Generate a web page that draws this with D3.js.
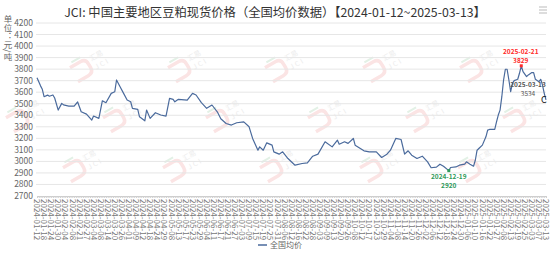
<!DOCTYPE html>
<html><head><meta charset="utf-8">
<script src="https://cdn.jsdelivr.net/npm/d3@7/dist/d3.min.js"></script>
<style>
html,body{margin:0;padding:0;background:#fff;}
svg{display:block;font-family:"Noto Sans CJK SC","Noto Sans",sans-serif;}
</style></head>
<body>
<svg id="c" width="553" height="253"></svg>
<script>
const titleText = "JCI: 中国主要地区豆粕现货价格（全国均价数据）【2024-01-12~2025-03-13】";
const unitText = "单位：元/吨";
const seriesName = "全国均价";
const yTicks = [2700,2800,2900,3000,3100,3200,3300,3400,3500,3600,3700,3800,3900,4000,4100,4200];
const xTickLabels = ["2024-01-12","2024-01-18","2024-01-24","2024-01-30","2024-02-04","2024-02-08","2024-02-21","2024-02-27","2024-03-04","2024-03-08","2024-03-14","2024-03-20","2024-03-26","2024-04-01","2024-04-09","2024-04-12","2024-04-18","2024-04-24","2024-04-29","2024-05-08","2024-05-13","2024-05-17","2024-05-23","2024-05-29","2024-06-04","2024-06-11","2024-06-17","2024-06-21","2024-06-27","2024-07-03","2024-07-09","2024-07-15","2024-07-19","2024-07-25","2024-07-31","2024-08-06","2024-08-12","2024-08-16","2024-08-22","2024-08-28","2024-09-03","2024-09-09","2024-09-13","2024-09-20","2024-09-26","2024-10-08","2024-10-12","2024-10-17","2024-10-23","2024-10-29","2024-11-04","2024-11-08","2024-11-14","2024-11-20","2024-11-26","2024-12-02","2024-12-06","2024-12-12","2024-12-18","2024-12-24","2024-12-30","2025-01-06","2025-01-10","2025-01-16","2025-01-22","2025-01-27","2025-02-08","2025-02-13","2025-02-19","2025-02-25","2025-03-03","2025-03-07","2025-03-13"];
const labelStep = 4; // trading days between labels
const dayCount = 289; // trading days in the series
// trading-day index of each sampled point, and the price there
const dayIndex = [0,2,3,4,6,7,9,10,12,14,15,18,21,23,25,28,31,32,35,37,39,42,44,45,47,49,51,53,54,57,58,61,62,64,67,70,73,75,77,78,80,85,88,90,93,96,99,102,104,107,110,113,117,120,122,125,126,128,130,133,134,137,139,142,146,150,153,156,159,163,167,170,171,174,176,179,180,185,188,192,195,198,200,203,206,208,210,212,215,218,221,223,226,228,230,233,234,237,239,242,243,245,247,248,249,250,252,254,255,256,259,260,261,262,263,264,265,266,267,268,269,270,272,273,274,275,277,278,280,281,282,284,285,286,287,288];
const avgPrice = [3726,3655,3625,3561,3575,3565,3576,3550,3445,3503,3490,3480,3480,3515,3430,3410,3358,3393,3373,3526,3509,3590,3604,3706,3648,3590,3532,3517,3460,3451,3387,3352,3445,3373,3422,3402,3393,3547,3538,3517,3538,3532,3590,3576,3509,3460,3489,3430,3370,3329,3315,3335,3343,3300,3199,3097,3126,3097,3161,3141,3083,3063,3083,3025,2967,2982,2987,3045,3063,3170,3126,3184,3149,3170,3156,3199,3141,3092,3083,3083,3034,3063,3097,3199,3190,3063,3092,3054,3025,3045,2996,2945,2950,2976,2958,2920,2947,2952,2967,2976,2996,2976,2958,3010,3097,3112,3141,3213,3271,3277,3277,3343,3402,3445,3561,3706,3799,3799,3706,3604,3677,3700,3712,3764,3829,3778,3735,3750,3770,3770,3712,3691,3712,3663,3590,3534];
const markDates = ["2025-02-21","2024-12-19","2025-03-13"];
const markDayIndex = [274,233,288];

const svg = d3.select("#c");
const L = 37, R = 546, T = 23, B = 196;
const x = d3.scaleLinear().domain([0, dayCount-1]).range([L, R]);
const y = d3.scaleLinear().domain([2700, 4200]).range([B, T]);

// title
svg.append("text").attr("x", 275).attr("y", 17).attr("text-anchor","middle")
  .attr("font-size", 12.3).attr("fill","#333").text(titleText);
// menu icon
const mg = svg.append("g").attr("stroke","#bbb").attr("stroke-width",1);
[7,10,13].forEach(v=>mg.append("line").attr("x1",539).attr("x2",547).attr("y1",v).attr("y2",v));

// watermarks
const wmRows = [{y:62, xs:[92,190,287,385,482]},{y:112, xs:[28,125,228,330,428,525]},{y:162, xs:[85,185,282,382,480]}];
const wm = svg.append("g");
wmRows.forEach(r=>r.xs.forEach(cx=>{
  const g = wm.append("g").attr("transform",`translate(${cx},${r.y}) rotate(-30)`);
  g.append("path").attr("d","M-22,-6 L-10,-6 Q-4,-6 -4,0 L-4,4 Q-4,10 -10,10 L-22,10")
    .attr("fill","none").attr("stroke","#fbe4e4").attr("stroke-width",3.5);
  g.append("path").attr("d","M-18,-10 L-8,-10").attr("stroke","#e3f1e6").attr("stroke-width",2);
  g.append("text").attr("x",0).attr("y",-1).attr("font-size",7).attr("fill","#ececec").text("汇易");
  g.append("text").attr("x",0).attr("y",9).attr("font-size",7).attr("fill","#ececec").attr("letter-spacing",2).text("JCI");
}));

// grid + y labels
const gy = svg.append("g");
yTicks.forEach(v=>{
  if (v !== 2700) gy.append("line").attr("x1",L-1).attr("x2",R).attr("y1",y(v)).attr("y2",y(v))
    .attr("stroke","#e6e6e6").attr("stroke-width",1);
  gy.append("text").attr("x",33).attr("y",y(v)).attr("dy","0.35em").attr("text-anchor","end")
    .attr("font-size",8.5).attr("fill","#666").text(v);
});

// unit label (vertical)
svg.append("text").attr("x",8).attr("y",15).attr("font-size",8.5).attr("fill","#666")
  .attr("writing-mode","tb").attr("style","writing-mode:vertical-rl").text(unitText);

// x axis
const xa = d3.axisBottom(x).tickValues(d3.range(0, dayCount, 1)).tickSize(2).tickFormat("");
const xg = svg.append("g").attr("transform",`translate(0,${B})`).call(xa);
xg.select(".domain").attr("stroke","#ccc");
xg.selectAll(".tick line").attr("stroke","#d0d0d0");
const lg = svg.append("g");
xTickLabels.forEach((t,k)=>{
  const px = x(k*labelStep);
  lg.append("text").attr("transform",`translate(${px},${B+3}) rotate(90)`).attr("dy","0.35em")
    .attr("font-size",8).attr("fill","#777").text(t);
});

// line
const pts = dayIndex.map((d,i)=>[d, avgPrice[i]]);
svg.append("path").datum(pts).attr("fill","none").attr("stroke","#4a6a9c").attr("stroke-width",1.2)
  .attr("stroke-linejoin","round")
  .attr("d", d3.line().x(d=>x(d[0])).y(d=>y(d[1])));

// marks
const valAt = idx => avgPrice[dayIndex.indexOf(idx)];
const markColors = ["#ff2a2a","#2f9a5a","#555"];
markDayIndex.forEach((idx,i)=>{
  const v = valAt(idx), px = x(idx), py = y(v);
  if (i < 2) svg.append("rect").attr("x",px-1.5).attr("y",py-1.5).attr("width",3).attr("height",3).attr("fill",markColors[i]);
  let ty1, ty2, tx = px;
  if (i===0){ ty1 = py-12; ty2 = py-2.5; tx = px-0.5; }
  else if (i===1){ ty1 = py+8; ty2 = py+17.5; }
  else { ty1 = py-13; ty2 = py-3.5; tx = px-18; }
  svg.append("text").attr("x",tx).attr("y",ty1).attr("text-anchor","middle").attr("font-size",6.5)
    .attr("font-weight","bold").attr("fill",markColors[i]).text(markDates[i]);
  svg.append("text").attr("x",tx).attr("y",ty2).attr("text-anchor","middle").attr("font-size",6.5)
    .attr("font-weight",i<2?"bold":"normal").attr("fill",markColors[i]).text(v);
});
svg.append("text").attr("x",541).attr("y",103).attr("font-size",9).attr("fill","#111").text("C");

// legend
svg.append("line").attr("x1",258).attr("x2",267).attr("y1",245).attr("y2",245).attr("stroke","#4a6a9c").attr("stroke-width",1.5);
svg.append("text").attr("x",270).attr("y",245).attr("dy","0.35em").attr("font-size",8).attr("fill","#666").text(seriesName);
</script>
</body></html>
